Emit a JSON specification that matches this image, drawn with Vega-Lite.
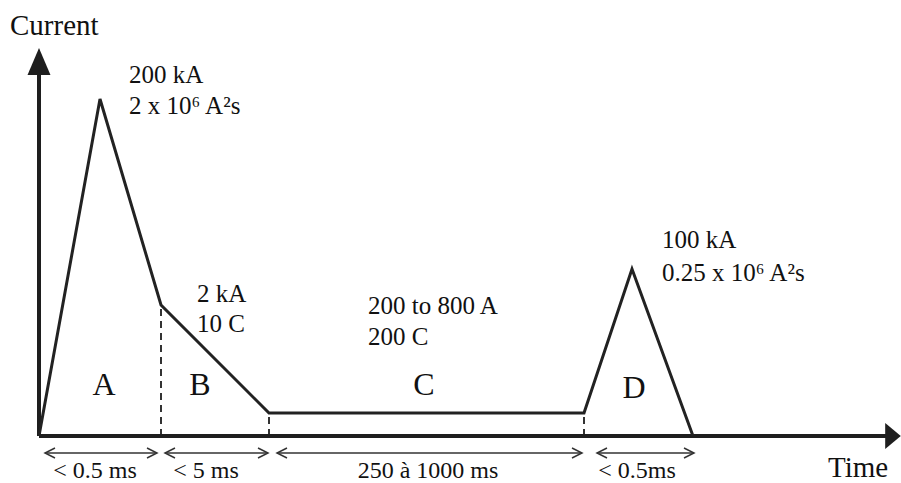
{
  "$schema": "https://vega.github.io/schema/vega-lite/v6.json",
  "width": 901,
  "height": 483,
  "autosize": {"type": "none"},
  "padding": 0,
  "background": "white",
  "config": {"view": {"stroke": null}},
  "datasets": {
    "wave": [
      {"t": 0, "x": 0, "y": 0},
      {"t": 1, "x": 61, "y": 337},
      {"t": 2, "x": 122, "y": 131},
      {"t": 3, "x": 230, "y": 23},
      {"t": 4, "x": 545, "y": 23},
      {"t": 5, "x": 593, "y": 167},
      {"t": 6, "x": 654, "y": 0}
    ],
    "dashes": [
      {"x": 122, "y": 0, "y2": 131},
      {"x": 230, "y": 0, "y2": 23},
      {"x": 545, "y": 0, "y2": 23}
    ],
    "axesLines": [
      {"x": 0, "x2": 0, "y": 0, "y2": 366},
      {"x": 0, "x2": 849, "y": 0, "y2": 0}
    ],
    "spans": [
      {"x": 6, "x2": 118, "y": -17},
      {"x": 126, "x2": 229, "y": -17},
      {"x": 238, "x2": 543, "y": -17},
      {"x": 558, "x2": 655, "y": -17}
    ],
    "durations": [
      {"x": 56, "y": -42, "text": "< 0.5 ms"},
      {"x": 167, "y": -42, "text": "< 5 ms"},
      {"x": 389, "y": -42, "text": "250 à 1000 ms"},
      {"x": 598, "y": -42, "text": "< 0.5ms"}
    ],
    "notes": [
      {"x": 90, "y": 353, "text": "200 kA"},
      {"x": 90, "y": 322, "text": "2 x 10⁶ A²s"},
      {"x": 158, "y": 134, "text": "2 kA"},
      {"x": 158, "y": 104, "text": "10 C"},
      {"x": 329, "y": 122, "text": "200 to 800 A"},
      {"x": 329, "y": 91, "text": "200 C"},
      {"x": 623, "y": 188, "text": "100 kA"},
      {"x": 623, "y": 155, "text": "0.25 x 10⁶ A²s"}
    ],
    "letters": [
      {"x": 65, "y": 41, "text": "A"},
      {"x": 161, "y": 41, "text": "B"},
      {"x": 385, "y": 41, "text": "C"},
      {"x": 595, "y": 38, "text": "D"}
    ],
    "titles": [
      {"x": -29, "y": 401, "text": "Current"},
      {"x": 789, "y": -41, "text": "Time"}
    ]
  },
  "encoding": {
    "x": {"field": "x", "type": "quantitative", "scale": {"domain": [-39, 862], "nice": false, "zero": false}, "axis": null},
    "y": {"field": "y", "type": "quantitative", "scale": {"domain": [-47, 436], "nice": false, "zero": false}, "axis": null}
  },
  "layer": [
    {
      "data": {"name": "dashes"},
      "mark": {"type": "rule", "color": "#333", "strokeWidth": 2, "strokeDash": [7, 5]},
      "encoding": {"y2": {"field": "y2"}}
    },
    {
      "data": {"name": "axesLines"},
      "mark": {"type": "rule", "color": "#1e1e1e", "strokeWidth": 4},
      "encoding": {"x2": {"field": "x2"}, "y2": {"field": "y2"}}
    },
    {
      "data": {"name": "wave"},
      "mark": {"type": "line", "color": "#222", "strokeWidth": 3, "strokeJoin": "miter"},
      "encoding": {"order": {"field": "t", "type": "quantitative"}}
    },
    {
      "data": {"values": [{"x": 0, "y": 374.5}]},
      "mark": {"type": "point", "shape": "M0,-1L-0.85,1L0.85,1Z", "size": 729, "filled": true, "color": "#1e1e1e", "opacity": 1}
    },
    {
      "data": {"values": [{"x": 854, "y": 0}]},
      "mark": {"type": "point", "shape": "M0.6,0L-0.6,-1L-0.6,1Z", "size": 676, "filled": true, "color": "#1e1e1e", "opacity": 1}
    },
    {
      "data": {"name": "spans"},
      "mark": {"type": "rule", "color": "#333", "strokeWidth": 1.5},
      "encoding": {"x2": {"field": "x2"}}
    },
    {
      "data": {"name": "spans"},
      "mark": {"type": "point", "shape": "M2,-1L0,0L2,1", "size": 100, "filled": false, "color": "#333", "strokeWidth": 1.5, "opacity": 1}
    },
    {
      "data": {"name": "spans"},
      "mark": {"type": "point", "shape": "M-2,-1L0,0L-2,1", "size": 100, "filled": false, "color": "#333", "strokeWidth": 1.5, "opacity": 1},
      "encoding": {"x": {"field": "x2", "type": "quantitative"}}
    },
    {
      "data": {"name": "durations"},
      "mark": {"type": "text", "font": "Liberation Serif", "fontSize": 24, "align": "center", "baseline": "alphabetic", "color": "#111"},
      "encoding": {"text": {"field": "text"}}
    },
    {
      "data": {"name": "notes"},
      "mark": {"type": "text", "font": "Liberation Serif", "fontSize": 25, "align": "left", "baseline": "alphabetic", "color": "#111"},
      "encoding": {"text": {"field": "text"}}
    },
    {
      "data": {"name": "letters"},
      "mark": {"type": "text", "font": "Liberation Serif", "fontSize": 32, "align": "center", "baseline": "alphabetic", "color": "#111"},
      "encoding": {"text": {"field": "text"}}
    },
    {
      "data": {"name": "titles"},
      "mark": {"type": "text", "font": "Liberation Serif", "fontSize": 29, "align": "left", "baseline": "alphabetic", "color": "#111"},
      "encoding": {"text": {"field": "text"}}
    }
  ]
}
